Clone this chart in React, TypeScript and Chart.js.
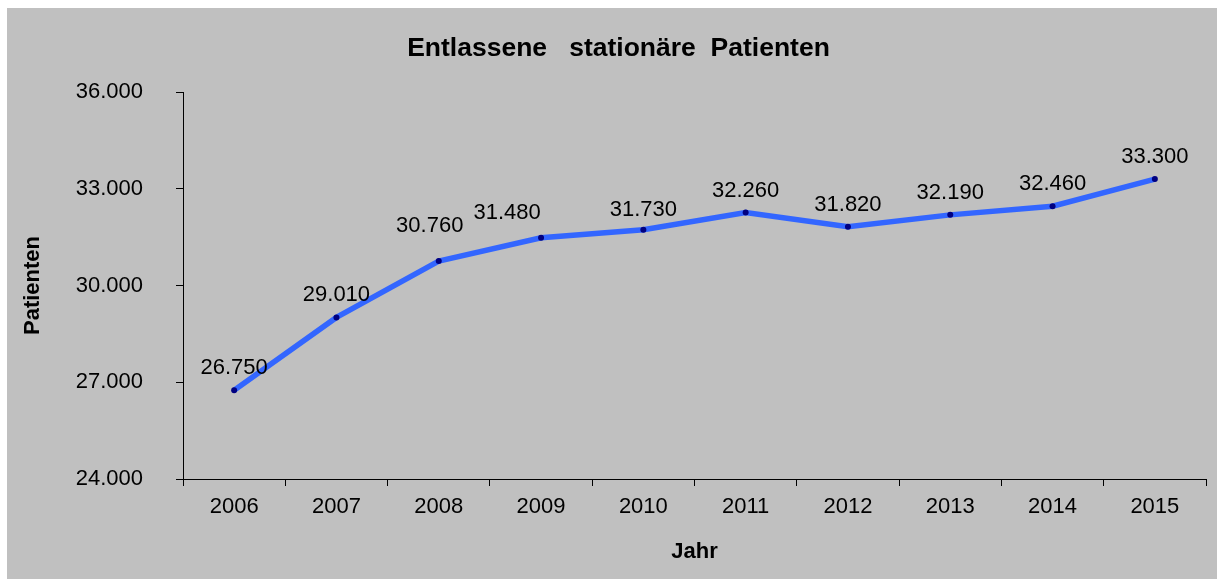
import React, { useEffect, useRef } from "react";
import { Chart, registerables } from "chart.js";

Chart.register(...registerables);

const TITLE = "Entlassene   stationäre  Patienten";
const X_TITLE = "Jahr";
const Y_TITLE = "Patienten";
const years = ["2006", "2007", "2008", "2009", "2010", "2011", "2012", "2013", "2014", "2015"];
const patients = [26750, 29010, 30760, 31480, 31730, 32260, 31820, 32190, 32460, 33300];
const Y_MIN = 24000;
const Y_MAX = 36000;
const Y_STEP = 3000;
// label nudges (dx, dy) relative to default placement above the point
const labelNudgeX = [0, 0, -9, -34, 0, 0, 0, 0, 0, 0];
const labelNudgeY = [0, 0, -13, -3, 2, 0, 0, 0, 0, 0];

const FONT = "'Liberation Sans', Arial, sans-serif";

const fmt = (v: number) => {
  const s = Math.round(v).toString();
  return s.replace(/\B(?=(\d{3})+(?!\d))/g, ".");
};

const overlayPlugin = {
  id: "overlay",
  afterDatasetsDraw(chart: any) {
    const ctx = chart.ctx;
    ctx.save();
    // data labels
    const meta = chart.getDatasetMeta(0);
    ctx.font = `22px ${FONT}`;
    ctx.fillStyle = "#000";
    ctx.textAlign = "center";
    ctx.textBaseline = "alphabetic";
    meta.data.forEach((pt: any, i: number) => {
      ctx.fillText(fmt(patients[i]), pt.x + labelNudgeX[i], pt.y - 16 + labelNudgeY[i]);
    });
    // title
    ctx.font = `bold 26.5px ${FONT}`;
    ctx.fillText(TITLE, 611.5, 47.5);
    ctx.restore();
  },
};

export default function App() {
  const ref = useRef<HTMLCanvasElement | null>(null);
  useEffect(() => {
    if (!ref.current) return;
    const chart = new Chart(ref.current, {
      type: "line",
      data: {
        labels: years,
        datasets: [
          {
            data: patients,
            borderColor: "#3366FF",
            borderWidth: 5.5,
            pointBackgroundColor: "#000080",
            pointBorderColor: "#000080",
            pointRadius: 3,
            pointBorderWidth: 0,
            tension: 0,
          },
        ],
      },
      options: {
        responsive: false,
        animation: false,
        layout: { padding: { top: 84, right: 11, left: 0, bottom: 0 } },
        plugins: {
          legend: { display: false },
          title: { display: false },
          tooltip: { enabled: false },
        },
        scales: {
          x: {
            offset: true,
            grid: {
              offset: true,
              drawOnChartArea: false,
              drawTicks: true,
              tickLength: 7,
              color: "#000",
            },
            border: { display: true, color: "#000", width: 1 },
            ticks: {
              color: "#000",
              font: { family: FONT, size: 22 },
              padding: 8,
              maxRotation: 0,
            },
            title: {
              display: true,
              text: X_TITLE,
              color: "#000",
              font: { family: FONT, size: 22, weight: "bold" },
              padding: { top: 14, bottom: 14 },
            },
            afterFit(scale: any) {
              scale.height = 100;
            },
          },
          y: {
            min: Y_MIN,
            max: Y_MAX,
            grid: {
              drawOnChartArea: false,
              drawTicks: true,
              tickLength: 7,
              color: "#000",
            },
            border: { display: true, color: "#000", width: 1 },
            ticks: {
              stepSize: Y_STEP,
              color: "#000",
              font: { family: FONT, size: 22 },
              padding: 33,
              callback: (v: any) => fmt(Number(v)),
            },
            title: {
              display: true,
              text: Y_TITLE,
              color: "#000",
              font: { family: FONT, size: 22, weight: "bold" },
              padding: { top: 13, bottom: 13 },
            },
            afterFit(scale: any) {
              scale.width = 176;
            },
          },
        },
      },
      plugins: [overlayPlugin],
    });
    return () => chart.destroy();
  }, []);
  return (
    <div
      style={{
        position: "fixed",
        left: 7,
        top: 8,
        width: 1210,
        height: 571,
        background: "#C0C0C0",
      }}
    >
      <canvas ref={ref} width={1210} height={571} style={{ display: "block" }} />
    </div>
  );
}
